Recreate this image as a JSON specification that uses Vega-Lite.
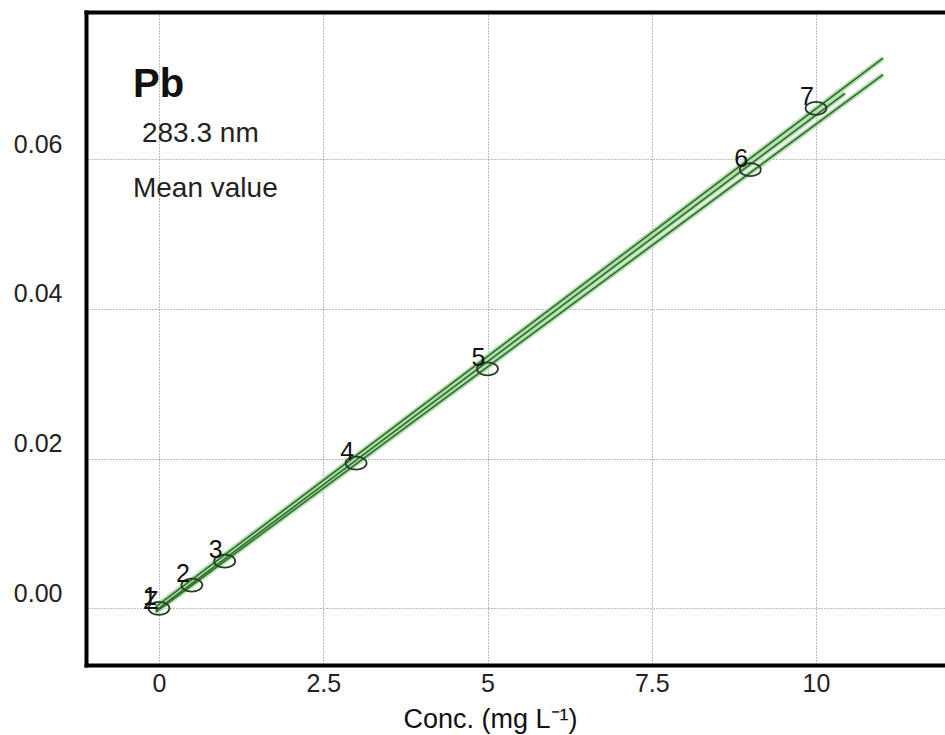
{
  "$schema": "https://vega.github.io/schema/vega-lite/v6.json",
  "autosize": "none",
  "width": 859,
  "height": 653,
  "padding": {"left": 86, "top": 12, "right": 0, "bottom": 70},
  "background": "white",
  "config": {
    "view": {"stroke": null},
    "font": "Liberation Sans",
    "axis": {"labelFont": "Liberation Sans", "titleFont": "Liberation Sans", "labelColor": "#222", "titleColor": "#111", "titleFontWeight": "normal", "labelFontSize": 25, "titleFontSize": 27, "ticks": false}
  },
  "datasets": {
    "points": [
      {"conc": 0, "abs": 0.0000, "label": "1"},
      {"conc": 0.5, "abs": 0.0031, "label": "2"},
      {"conc": 1, "abs": 0.0063, "label": "3"},
      {"conc": 3, "abs": 0.0194, "label": "4"},
      {"conc": 5, "abs": 0.0320, "label": "5"},
      {"conc": 9, "abs": 0.0586, "label": "6"},
      {"conc": 10, "abs": 0.0668, "label": "7"}
    ],
    "extra": [{"conc": 0, "abs": 0.0000, "label": "Z"}],
    "lines": [
      {"conc": -0.05, "abs": -0.0003, "series": "fit"},
      {"conc": 10.44, "abs": 0.0688, "series": "fit"},
      {"conc": -0.05, "abs": 0.0002, "series": "upper"},
      {"conc": 11.02, "abs": 0.0735, "series": "upper"},
      {"conc": -0.05, "abs": -0.0005, "series": "lower"},
      {"conc": 11.02, "abs": 0.0713, "series": "lower"}
    ],
    "notes": [
      {"conc": -0.396, "abs": 0.0683, "text": "Pb", "kind": "big"},
      {"conc": -0.259, "abs": 0.0623, "text": "283.3 nm", "kind": "small"},
      {"conc": -0.396, "abs": 0.05495, "text": "Mean value", "kind": "small"}
    ]
  },
  "resolve": {"axis": {"x": "independent"}},
  "layer": [
    {
      "data": {"name": "lines"},
      "mark": {"type": "line", "strokeWidth": 5, "color": "#b3ddac", "clip": true},
      "encoding": {
        "x": {"field": "conc", "type": "quantitative", "scale": {"domain": [-1.111, 11.963], "nice": false, "zero": false},
          "axis": {"orient": "bottom", "values": [0, 2.5, 5, 7.5, 10], "format": ".1~f", "labelFontSize": 25, "labelPadding": 6, "ticks": false,
            "domainColor": "black", "domainWidth": 4, "domainCap": "square",
            "grid": true, "gridColor": "#7a7a7a", "gridDash": [1, 2], "gridWidth": 1,
            "title": "Conc. (mg L⁻¹)", "titleFontSize": 27, "titleX": 404, "titleY": 62, "titleAlign": "center", "titleBaseline": "alphabetic"}},
        "y": {"field": "abs", "type": "quantitative", "scale": {"domain": [-0.007575, 0.07967], "nice": false, "zero": false},
          "axis": {"values": [0, 0.02, 0.04, 0.06], "format": ".2f", "labelFontSize": 25, "labelPadding": 24, "labelOffset": -15, "ticks": false,
            "domainColor": "black", "domainWidth": 4, "domainCap": "square",
            "grid": true, "gridColor": "#7a7a7a", "gridDash": [1, 2], "gridWidth": 1, "title": null}},
        "detail": {"field": "series"}
      }
    },
    {
      "data": {"name": "lines"},
      "mark": {"type": "line", "strokeWidth": 1.6, "color": "#2b6e2b", "clip": true},
      "encoding": {
        "x": {"field": "conc", "type": "quantitative", "axis": {"orient": "top", "labels": false, "ticks": false, "grid": false, "title": null, "domainColor": "black", "domainWidth": 4, "domainCap": "square"}},
        "y": {"field": "abs", "type": "quantitative"},
        "detail": {"field": "series"}
      }
    },
    {
      "data": {"name": "points"},
      "mark": {"type": "point", "shape": "M-1,0A1,0.62 0 1,0 1,0A1,0.62 0 1,0 -1,0Z", "size": 441, "filled": false, "strokeWidth": 1.8, "color": "#263f26", "opacity": 1},
      "encoding": {
        "x": {"field": "conc", "type": "quantitative", "axis": null},
        "y": {"field": "abs", "type": "quantitative"}
      }
    },
    {
      "data": {"name": "points"},
      "mark": {"type": "text", "fontSize": 25, "dx": -9, "dy": -11, "align": "center", "baseline": "middle", "color": "#111"},
      "encoding": {
        "x": {"field": "conc", "type": "quantitative", "axis": null},
        "y": {"field": "abs", "type": "quantitative"},
        "text": {"field": "label"}
      }
    },
    {
      "data": {"name": "extra"},
      "mark": {"type": "text", "fontSize": 25, "dx": -8, "dy": -7, "align": "center", "baseline": "middle", "color": "#111"},
      "encoding": {
        "x": {"field": "conc", "type": "quantitative", "axis": null},
        "y": {"field": "abs", "type": "quantitative"},
        "text": {"field": "label"}
      }
    },
    {
      "data": {"name": "notes"},
      "transform": [{"filter": "datum.kind == 'big'"}],
      "mark": {"type": "text", "fontSize": 40, "fontWeight": "bold", "align": "left", "baseline": "alphabetic", "color": "#111"},
      "encoding": {
        "x": {"field": "conc", "type": "quantitative", "axis": null},
        "y": {"field": "abs", "type": "quantitative"},
        "text": {"field": "text"}
      }
    },
    {
      "data": {"name": "notes"},
      "transform": [{"filter": "datum.kind == 'small'"}],
      "mark": {"type": "text", "fontSize": 28, "align": "left", "baseline": "alphabetic", "color": "#222"},
      "encoding": {
        "x": {"field": "conc", "type": "quantitative", "axis": null},
        "y": {"field": "abs", "type": "quantitative"},
        "text": {"field": "text"}
      }
    }
  ]
}
